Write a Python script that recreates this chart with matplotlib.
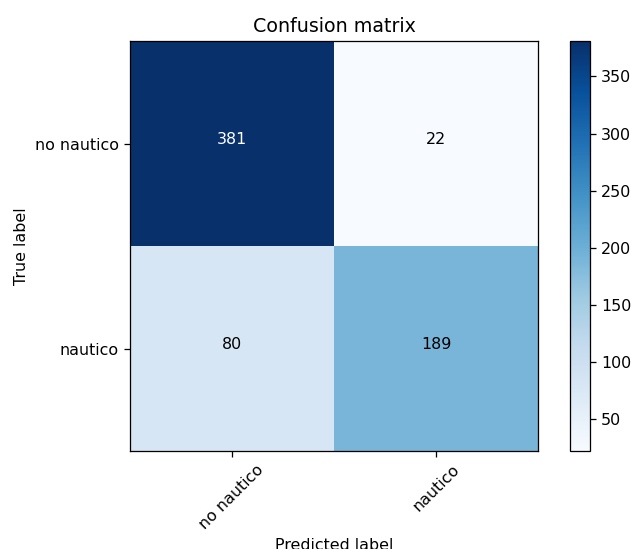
import numpy as np
import matplotlib.pyplot as plt

classes = ["no nautico", "nautico"]
cm = np.array([[381, 22],
               [80, 189]])

dpi = 114
fig = plt.figure(figsize=(631 / dpi, 549 / dpi), dpi=dpi)
ax = fig.add_axes([0.206, 0.1785, 0.6466, 0.7468])
cax = fig.add_axes([0.9033, 0.1785, 0.0317, 0.7468])

im = ax.imshow(cm, interpolation="nearest", cmap=plt.cm.Blues, aspect="auto")
ax.set_title("Confusion matrix")
fig.colorbar(im, cax=cax)

tick_marks = np.arange(len(classes))
ax.set_xticks(tick_marks)
ax.set_xticklabels(classes, rotation=45)
ax.set_yticks(tick_marks)
ax.set_yticklabels(classes)

thresh = cm.max() / 2.0
for i in range(cm.shape[0]):
    for j in range(cm.shape[1]):
        ax.text(j, i, format(cm[i, j], "d"),
                horizontalalignment="center",
                color="white" if cm[i, j] > thresh else "black")

ax.set_ylabel("True label")
ax.set_xlabel("Predicted label")

fig.savefig("out.png", dpi=dpi)
